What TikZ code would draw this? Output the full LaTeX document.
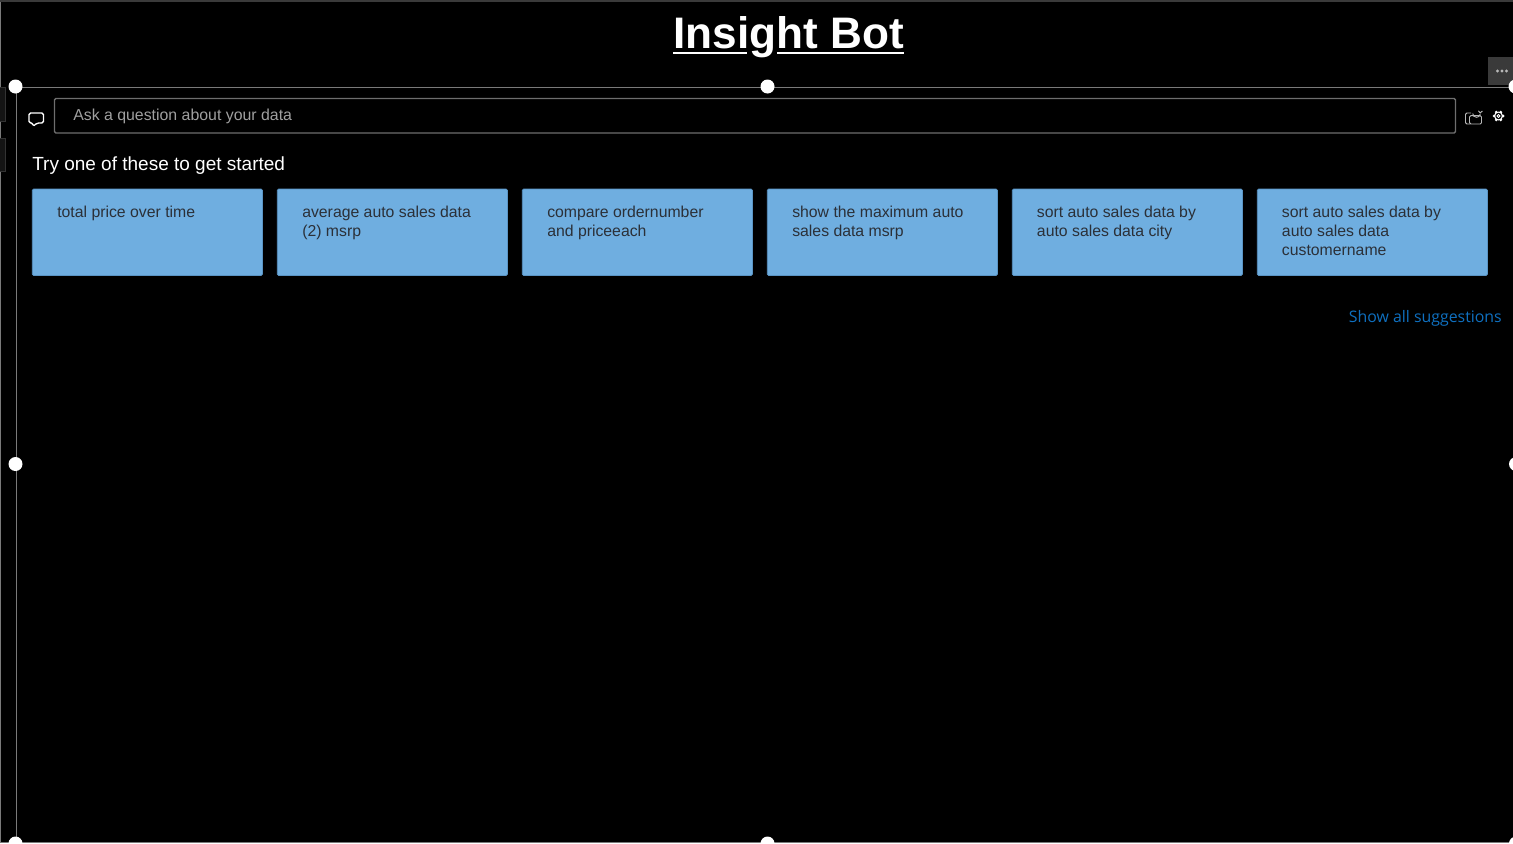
\documentclass[tikz,border=0pt]{standalone}
\usepackage{fontspec}
\setmainfont{Liberation Sans}
\newfontfamily\linkfont{Open Sans}
\definecolor{cardblue}{HTML}{6FAEE0}
\definecolor{cardedge}{HTML}{5A94C4}
\definecolor{cardtext}{HTML}{2B3038}
\definecolor{framegray}{HTML}{7A7A7A}
\definecolor{boxgray}{HTML}{6E6E6E}
\definecolor{hint}{HTML}{A0A0A0}
\definecolor{linkblue}{HTML}{0F70C0}
\definecolor{menugray}{HTML}{3A3A3A}
\definecolor{iconlt}{HTML}{B8B8B8}
\tikzset{
  x=0.75pt,y=-0.75pt,
  card/.style={fill=cardblue,draw=cardedge,line width=0.5pt,rounded corners=1pt},
  cardlabel/.style={anchor=base west,inner sep=0pt,align=left,text=cardtext,font=\fontsize{11.85}{14.25}\selectfont},
  handle/.style={circle,fill=white,draw=none,minimum size=10.5pt,inner sep=0pt},
  frameline/.style={draw=framegray,line width=0.75pt},
}
\begin{document}
\begin{tikzpicture}
\useasboundingbox (0,0) rectangle (1513,843);
\fill[black] (0,0) rectangle (1513,843);
% outer edges
\draw[draw=framegray,line width=0.75pt] (0.7,843) -- (0.7,0);
\fill[menugray] (0,0) rectangle (1513,1.8);
\draw[draw=framegray,line width=0.9pt] (0,842.3) -- (1513,842.3);
% left tabs
\draw[draw=black!80!white,line width=0.6pt,fill=black!92!white] (-2,87) -- (5,87) -- (5,121) -- (-2,121);
\draw[draw=black!80!white,line width=0.6pt,fill=black!92!white] (-2,138) -- (5,138) -- (5,171) -- (-2,171);
% visual frame
\draw[frameline] (16,843) -- (16,87.5) -- (1513,87.5);
% title
\node[anchor=base,inner sep=0pt,text=white,font=\bfseries\fontsize{33.1}{40}\selectfont] (title) at (788.5,48) {Insight Bot};
\fill[white] (title.base west |- 0,51.5) rectangle (747,54.3);
\fill[white] (777,51.5) rectangle (title.base east |- 0,54.3);
% menu
\fill[menugray] (1488,57) rectangle (1513,85);
\foreach \mx in {1497.5,1502,1506.5} \fill[iconlt] (\mx,71) circle (1.7);
% handles
\node[handle] (h1) at (15.5,86.5) {};
\node[handle] (h2) at (767.5,86.5) {};
\node[handle] (h3) at (1515.5,86.5) {};
\node[handle] (h4) at (15.5,464) {};
\node[handle] (h5) at (1516,464) {};
\node[handle] (h6) at (15.5,843.5) {};
\node[handle] (h7) at (767.5,843.5) {};
\node[handle] (h8) at (1516,843.5) {};
% chat icon
\draw[white,line width=1pt,line join=round,rounded corners=1.2pt] (29,113) -- (43.5,113) -- (43.5,123) -- (37,123) -- (33,126.5) -- (33,123) -- (29,123) -- cycle;
% ask box
\draw[draw=boxgray,line width=1pt,rounded corners=1pt] (54.5,98.5) rectangle (1455.5,133);
\node[anchor=base west,inner sep=0pt,text=hint,font=\fontsize{11.9}{14}\selectfont] (ask) at (73,120.5) {Ask a question about your data};
% share icon
\draw[iconlt,line width=0.7pt,rounded corners=1pt] (1471,113) -- (1465.5,113) -- (1465.5,124) -- (1470,124);
\draw[iconlt,line width=0.7pt,rounded corners=1pt,fill=black] (1469.5,115.7) rectangle (1481.5,124);
\draw[iconlt,line width=0.7pt] (1472.7,113.5) arc (180:10:3.8);
\draw[iconlt,line width=0.7pt] (1478.4,110.8) -- (1480.2,113) -- (1482.4,111);
% settings icon
\foreach \ang in {0,60,...,300} \fill[white] (1498.5,116) ++(\ang:4.4) circle (1.6);
\fill[white] (1498.5,116) circle (4.5);
\fill[black] (1498.5,116) circle (3.2);
\draw[white,line width=0.7pt] (1498.5,116) circle (1.5);
% heading
\node[anchor=base west,inner sep=0pt,text=white,font=\fontsize{14.25}{17}\selectfont] (try) at (32,170) {Try one of these to get started};
% cards
\draw[card] (32.3,189) rectangle (262.5,275.5);
\draw[card] (277.3,189) rectangle (507.5,275.5);
\draw[card] (522.3,189) rectangle (752.5,275.5);
\draw[card] (767.3,189) rectangle (997.5,275.5);
\draw[card] (1012.3,189) rectangle (1242.5,275.5);
\draw[card] (1257.3,189) rectangle (1487.5,275.5);
\node[cardlabel] (t1) at (57,217.5) {total price over time};
\node[cardlabel] (t2) at (302,236.5) {average auto sales data\\(2) msrp};
\node[cardlabel] (t3) at (547,236.5) {compare ordernumber\\and priceeach};
\node[cardlabel] (t4) at (792,236.5) {show the maximum auto\\sales data msrp};
\node[cardlabel] (t5) at (1036.7,236.5) {sort auto sales data by\\auto sales data city};
\node[cardlabel] (t6) at (1281.7,255.5) {sort auto sales data by\\auto sales data\\customername};
% link
\node[anchor=base east,inner sep=0pt,text=linkblue,font=\linkfont\fontsize{11.9}{15}\selectfont] (link) at (1502,322) {Show all suggestions};
\end{tikzpicture}
\end{document}
